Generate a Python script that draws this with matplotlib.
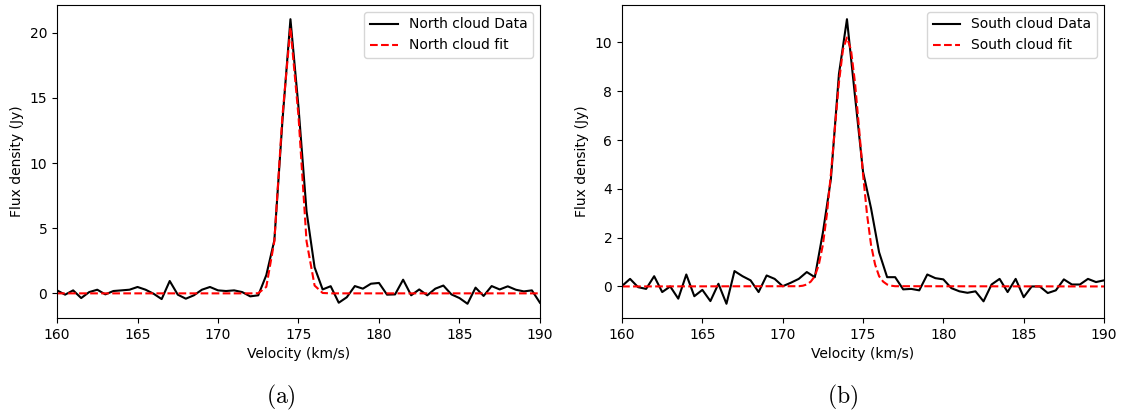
import numpy as np
import matplotlib
matplotlib.use("Agg")
import matplotlib.pyplot as plt

plt.rcParams["mathtext.fontset"] = "cm"

# channel velocities (km/s), 0.5 km/s channels
velocity = np.linspace(160, 190, 61)

north_data = [
    0.23, -0.1, 0.23, -0.36, 0.1, 0.28, -0.08, 0.18, 0.23, 0.28,
    0.49, 0.28, -0.03, -0.44, 0.95, -0.1, -0.41, -0.15, 0.28, 0.49,
    0.23, 0.18, 0.23, 0.1, -0.23, -0.15, 1.4, 4.07, 13.2, 21.05,
    14.3, 6.3, 2.0, 0.3, 0.55, -0.72, -0.3, 0.56, 0.36, 0.74,
    0.8, -0.1, -0.08, 1.05, -0.15, 0.3, -0.15, 0.36, 0.6, -0.08,
    -0.36, -0.8, 0.44, -0.2, 0.56, 0.3, 0.54, 0.28, 0.15, 0.23,
    -0.72,
]
north_fit = [
    0, 0, 0, 0, 0, 0, 0, 0, 0, 0,
    0, 0, 0, 0, 0, 0, 0, 0, 0, 0,
    0, 0, 0, 0, 0, 0.01, 0.5, 4.0, 13.6, 20.4,
    13.6, 4.0, 0.6, 0.03, 0, 0, 0, 0, 0, 0,
    0, 0, 0, 0, 0, 0, 0, 0, 0, 0,
    0, 0, 0, 0, 0, 0, 0, 0, 0, 0,
    0,
]

south_data = [
    0.02, 0.31, -0.03, -0.1, 0.42, -0.23, 0.0, -0.5, 0.49, -0.4,
    -0.14, -0.6, 0.11, -0.71, 0.63, 0.42, 0.25, -0.23, 0.45, 0.31,
    0.01, 0.15, 0.31, 0.59, 0.38, 2.2, 4.4, 8.7, 10.95, 7.8,
    4.7, 3.2, 1.4, 0.38, 0.38, -0.12, -0.1, -0.16, 0.49, 0.34,
    0.29, -0.07, -0.2, -0.26, -0.2, -0.61, 0.08, 0.31, -0.23, 0.31,
    -0.44, 0.0, 0.0, -0.27, -0.16, 0.29, 0.08, 0.08, 0.31, 0.18,
    0.25,
]
south_fit_v = [
    160, 171.0, 171.25, 171.5, 171.75, 172.0, 172.25, 172.5, 172.75, 173.0,
    173.25, 173.5, 173.75, 174.0, 174.25, 174.5, 174.75, 175.0, 175.25, 175.5,
    175.75, 176.0, 176.25, 176.5, 176.75, 177.0, 190,
]
south_fit = [
    0, 0.01, 0.03, 0.08, 0.2, 0.42, 0.9, 1.7, 2.95, 4.6,
    6.5, 8.35, 9.7, 10.2, 9.7, 8.35, 6.5, 4.6, 2.95, 1.7,
    0.9, 0.42, 0.2, 0.08, 0.03, 0.01, 0,
]

fig = plt.figure(figsize=(11.23, 4.13), dpi=100)
ax_a = fig.add_axes([0.0508, 0.230, 0.430, 0.758])
ax_b = fig.add_axes([0.5539, 0.230, 0.4292, 0.758])

panels = [
    (ax_a, velocity, north_data, velocity, north_fit, "North", "(a)", 0.25),
    (ax_b, velocity, south_data, south_fit_v, south_fit, "South", "(b)", 0.75),
]
for ax, v, data, fv, fit, name, tag, xc in panels:
    ax.plot(v, data, color="black", lw=1.5, label=f"{name} cloud Data")
    ax.plot(fv, fit, color="red", lw=1.5, ls="--", label=f"{name} cloud fit")
    ax.set_xlim(160, 190)
    ax.set_xlabel("Velocity (km/s)")
    ax.set_ylabel("Flux density (Jy)")
    ax.legend(loc="upper right")
    fig.text(xc, 0.038, r"$\mathrm{" + tag + "}$",
             ha="center", va="center", fontsize=17)

fig.savefig("out.png", dpi=100)
